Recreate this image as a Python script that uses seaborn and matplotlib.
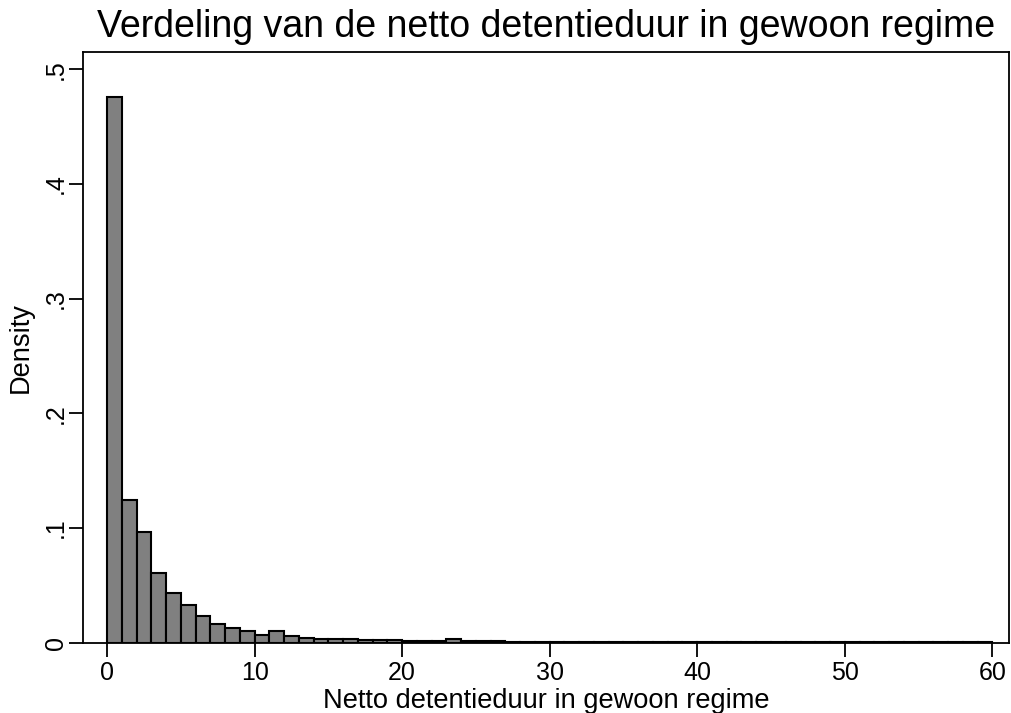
import numpy as np
import pandas as pd
import matplotlib
matplotlib.use("Agg")
import matplotlib.pyplot as plt
import seaborn as sns

# bin edges 0..60 (width 1), density per bin
bin_edges = np.arange(0, 61, 1)
density = [
    0.476, 0.1244, 0.0969, 0.0604, 0.0430, 0.0326, 0.0235, 0.0167, 0.0130, 0.0098,
    0.0071, 0.0106, 0.0058, 0.0038, 0.0036, 0.0030, 0.0030, 0.0024, 0.0023, 0.0022,
    0.0018, 0.0017, 0.0015, 0.0030, 0.0017, 0.0012, 0.0011, 0.0010, 0.0010, 0.0009,
    0.0009, 0.0008, 0.0008, 0.0007, 0.0008, 0.0007, 0.0006, 0.0005, 0.0005, 0.0005,
    0.0004, 0.0004, 0.0004, 0.0004, 0.0003, 0.0003, 0.0003, 0.0003, 0.0003, 0.0003,
    0.0003, 0.0003, 0.0002, 0.0002, 0.0002, 0.0002, 0.0002, 0.0002, 0.0002, 0.0004,
]
bin_mids = bin_edges[:-1] + 0.5

xticks = [0, 10, 20, 30, 40, 50, 60]
yticks = [0, 0.1, 0.2, 0.3, 0.4, 0.5]
ytick_labels = ["0", ".1", ".2", ".3", ".4", ".5"]

df = pd.DataFrame({"duur": bin_mids, "density": density})

sns.set_style("white")
plt.rcParams['font.family'] = ['Liberation Sans', 'DejaVu Sans']
plt.rcParams['text.color'] = 'black'
plt.rcParams['axes.labelcolor'] = 'black'

W, H = 1011, 713
fig = plt.figure(figsize=(W / 100, H / 100), dpi=100)
ax = fig.add_axes([83 / W, 1 - 642.7 / H, (1009 - 83) / W, (642.7 - 52.3) / H])

sns.histplot(data=df, x="duur", weights="density", binwidth=1, binrange=(0, 60),
             stat="count", color="#808080", edgecolor="black", linewidth=1.5,
             alpha=1, ax=ax)

ax.set_xlim(-1.63, 61.13)
ax.set_ylim(0, 0.5148)
ax.set_xticks(xticks)
ax.set_yticks(yticks)
ax.set_yticklabels(ytick_labels, rotation=90, va="center")
ax.tick_params(axis="both", direction="out", length=10, width=1.3,
               labelsize=18, colors="black", labelcolor="black",
               bottom=True, left=True)
ax.tick_params(axis="x", pad=3)
ax.tick_params(axis="y", pad=1)
for s in ax.spines.values():
    s.set_linewidth(1.3)
    s.set_color("black")

ax.set_xlabel("Netto detentieduur in gewoon regime", fontsize=19.6, labelpad=2)
ax.set_ylabel("Density", fontsize=19.6, labelpad=7)
fig.text(546 / W, 1 - 37 / H, "Verdeling van de netto detentieduur in gewoon regime",
         ha="center", va="baseline", fontsize=27)

fig.savefig("out.png", dpi=100)
